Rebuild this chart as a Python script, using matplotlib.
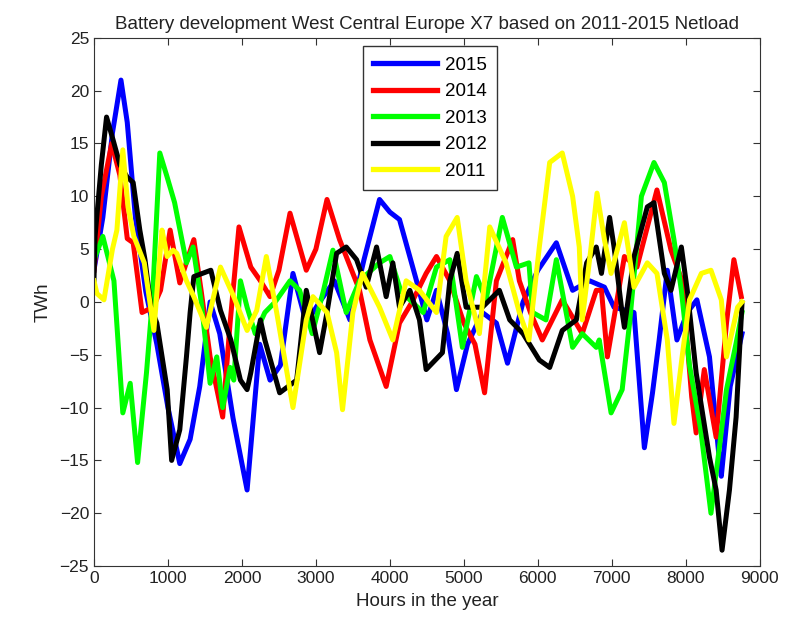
import matplotlib
matplotlib.use('Agg')
import matplotlib.pyplot as plt

plt.rcParams['font.family'] = ['Liberation Sans', 'DejaVu Sans']

# hours in the year / TWh
hrs_2015 = [0, 120, 250, 365, 450, 560, 700, 850, 1000, 1160, 1300, 1430, 1570, 1700, 1880,
            2070, 2240, 2380, 2520, 2690, 2870, 3050, 3250, 3460, 3650, 3860, 4000, 4130, 4360,
            4500, 4630, 4780, 4900, 5050, 5250, 5440, 5590, 5800, 6000, 6250, 6470, 6700, 6900,
            7030, 7300, 7440, 7550, 7640, 7750, 7880, 8020, 8150, 8320, 8450, 8480, 8600, 8760]
val_2015 = [3, 8, 16, 21, 17, 8, 1, -4, -10, -15.3, -13, -8, 0, -3, -11,
            -17.8, -4, -7.4, -6, 2.7, -2, 0, 2, -1.7, 4, 9.7, 8.5, 7.8, 2,
            -1.7, 1.1, -3, -8.3, -4, -1, -2, -5.8, 0, 3, 5.6, 1.1, 2, 1.4,
            -0.5, -1, -13.8, -8.6, -3.6, 3, -3.6, -1, 0.2, -5.2, -14.7, -16.5, -8, -3]

hrs_2014 = [0, 100, 240, 350, 450, 530, 600, 650, 800, 900, 1030, 1160, 1350, 1450, 1570,
            1740, 1840, 1960, 2120, 2250, 2380, 2500, 2650, 2870, 3000, 3150, 3320, 3590, 3730,
            3950, 4130, 4300, 4490, 4630, 4810, 5000, 5150, 5280, 5440, 5660, 5750, 5900, 6060,
            6330, 6600, 6790, 6860, 6940, 7170, 7340, 7610, 7800, 7950, 8080, 8140, 8250, 8410,
            8550, 8650, 8750]
val_2014 = [3, 10, 15, 12, 6, 5.6, 1.8, -1, -0.5, 1.1, 6.8, 1.8, 5.9, 1, -5.2,
            -10.9, -2, 7.1, 3.3, 2, 0.5, 3, 8.4, 3, 5, 9.7, 5.9, 1.1, -3.6,
            -8, -2, 0, 2.7, 4.3, 2, -2, -4, -8.6, 2, 5.9, 2, -1, -3.6,
            0.2, -3, 1.1, 1.1, -5.2, 4.3, 3.3, 10.6, 4.9, 2, -9, -12.4, -6.4, -12.8,
            -2, 4, 0.5]

hrs_2013 = [0, 120, 270, 390, 490, 590, 710, 790, 890, 990, 1090, 1250, 1340, 1450, 1570,
            1660, 1740, 1840, 1890, 1980, 2070, 2180, 2310, 2450, 2650, 2780, 2950, 3100, 3230,
            3410, 3590, 3860, 4000, 4150, 4300, 4450, 4630, 4810, 4980, 5170, 5300, 5520, 5710,
            5880, 5930, 6110, 6250, 6470, 6600, 6790, 6830, 6990, 7140, 7240, 7400, 7570, 7710,
            7840, 7940, 8050, 8200, 8340, 8450, 8550, 8680, 8760]
val_2013 = [4, 6.2, 2, -10.5, -7.7, -15.2, -6.7, 0.2, 14.1, 11.8, 9.4, 3.7, 5.2, 0, -7.7,
            -5.2, -10, -6.2, -7.4, 2, -0.5, -3, -1, 0, 2, 1.1, -3, 1, 4.9,
            -1, 2, 3.7, 4.3, 1, 0, -1, 3.3, 4, -4.3, 2.4, 0.2, 8, 3.3,
            3.7, -1, -1.7, 4, -4.3, -3, -4.3, -3.6, -10.5, -8.3, -2, 10, 13.2, 11.3,
            5.9, 1.1, -6, -12, -20, -14, -8.3, -3.9, -1]

hrs_2012 = [0, 15, 100, 170, 260, 350, 450, 530, 620, 690, 770, 850, 990, 1050, 1160,
            1250, 1300, 1350, 1580, 1710, 1850, 1980, 2070, 2120, 2250, 2310, 2510, 2740, 2870,
            3050, 3150, 3280, 3410, 3550, 3680, 3820, 3950, 4040, 4130, 4270, 4400, 4490, 4710,
            4810, 4910, 5030, 5250, 5480, 5620, 5800, 6020, 6160, 6330, 6520, 6660, 6790, 6860,
            6970, 7030, 7130, 7170, 7300, 7480, 7570, 7710, 7800, 7940, 8020, 8140, 8320, 8410,
            8490, 8590, 8680, 8760]
val_2012 = [2, 6.2, 13, 17.5, 15.3, 13, 11.8, 11.3, 6.8, 4, -0.5, -2, -8.3, -15, -12.1,
            -5.2, -1, 2.4, 3, -0.8, -3.6, -7.4, -8.3, -6.7, -1.7, -3.6, -8.6, -7.4, 1.1,
            -4.8, -1, 4.6, 5.2, 4, 1.4, 5.2, 0.5, 3.7, -0.5, 1.1, -1.7, -6.4, -4.8,
            2, 4.6, -0.5, -0.5, 1.1, -1.7, -3, -5.5, -6.2, -2.7, -1.7, 3.7, 5.2, 2.7,
            8, 5.2, -0.5, -2.4, 4.3, 9, 9.4, 2.7, 1.1, 5.2, 1.1, -6.7, -14.7, -17.8,
            -23.5, -17.8, -10.9, -0.1]

hrs_2011 = [0, 40, 135, 250, 310, 390, 460, 540, 680, 810, 900, 920, 990, 1070, 1120,
            1250, 1350, 1520, 1710, 1890, 2070, 2200, 2330, 2470, 2690, 2870, 2960, 3150, 3280,
            3360, 3500, 3630, 3860, 4040, 4220, 4400, 4630, 4760, 4910, 5030, 5210, 5350, 5570,
            5750, 5880, 6020, 6160, 6330, 6470, 6560, 6600, 6720, 6800, 6900, 6990, 7170, 7300,
            7480, 7610, 7750, 7840, 7950, 8050, 8210, 8340, 8480, 8550, 8700, 8760]
val_2011 = [2, 0.8, 0.2, 5, 6.8, 14.4, 9, 6.2, 3.7, -2.7, 5.2, 6.8, 4.3, 4.9, 4.6,
            2, 0.5, -2.4, 3.3, 0.5, -2.7, -0.8, 4.3, -1, -10, -1.7, 0.5, -1, -4.8,
            -10.2, -1, 2.7, -0.5, -3.6, 2, 1.1, -1, 6.2, 8, 2, -3, 7.1, 3.7,
            -1, -3.6, 5.2, 13.2, 14.1, 10, 5.2, -1.7, 5.2, 10.3, 5.9, 2.7, 7.5, 1.4,
            3.7, 2.7, -3.6, -11.5, -5.2, 0.2, 2.7, 3, 0.2, -5.2, -0.5, 0]

years = ['2015', '2014', '2013', '2012', '2011']
colors = ['#0000ff', '#ff0000', '#00ff00', '#000000', '#ffff00']
series = [(hrs_2015, val_2015), (hrs_2014, val_2014), (hrs_2013, val_2013),
          (hrs_2012, val_2012), (hrs_2011, val_2011)]

fig = plt.figure(figsize=(8.1, 6.2), dpi=100)
ax = fig.add_axes([0.116, 0.087, 0.822, 0.852])

for (h, v), c, lab in zip(series, colors, years):
    ax.plot(h, v, color=c, lw=3.6, label=lab)

ax.set_xlim(0, 9000)
ax.set_ylim(-25, 25)
ax.set_xticks(range(0, 9001, 1000))
ax.set_yticks(range(-25, 26, 5))
ax.tick_params(direction='in', top=True, right=True, labelsize=12.5, length=5,
               color='#333333', labelcolor='#222222')
for s in ax.spines.values():
    s.set_color('#333333')

ax.set_title('Battery development West Central Europe X7 based on 2011-2015 Netload',
             fontsize=13.5, pad=6, color='#222222')
ax.set_xlabel('Hours in the year', fontsize=13.5, labelpad=5, color='#222222')
ax.set_ylabel('TWh', fontsize=13.5, labelpad=6, color='#222222')

# legend box sits below the top spine, centred a bit left of the middle
leg = ax.legend(loc='upper left', bbox_to_anchor=(0.404, 0.984), fontsize=13.5,
                handlelength=3.4, handletextpad=0.4, fancybox=False, edgecolor='#333333',
                framealpha=1, borderpad=0.55, labelspacing=0.5, borderaxespad=0)
for line in leg.get_lines():
    line.set_linewidth(3.8)

fig.savefig('out.png', dpi=100)
